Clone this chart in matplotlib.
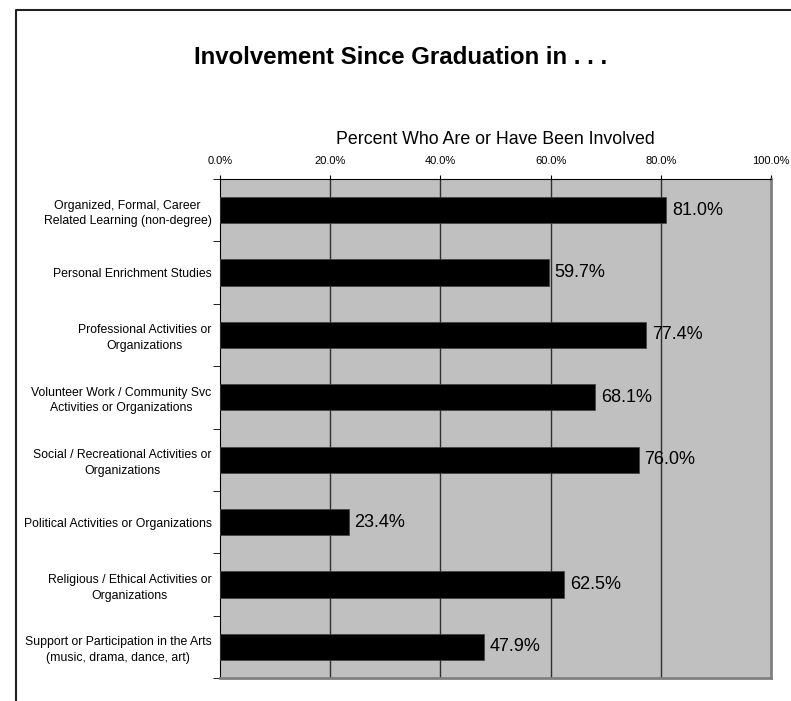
import numpy as np
import matplotlib
matplotlib.use("Agg")
import matplotlib.pyplot as plt
from matplotlib.lines import Line2D
from matplotlib.ticker import FuncFormatter

plt.rcParams['font.family'] = ['Liberation Sans', 'DejaVu Sans']

categories = ["Organized, Formal, Career\nRelated Learning (non-degree)",
              "Personal Enrichment Studies",
              "Professional Activities or\nOrganizations",
              "Volunteer Work / Community Svc\nActivities or Organizations",
              "Social / Recreational Activities or\nOrganizations",
              "Political Activities or Organizations",
              "Religious / Ethical Activities or\nOrganizations",
              "Support or Participation in the Arts\n(music, drama, dance, art)"]
percent = [81.0, 59.7, 77.4, 68.1, 76.0, 23.4, 62.5, 47.9]
xticks = [0, 20, 40, 60, 80, 100]

fig = plt.figure(figsize=(7.91, 7.01), dpi=100)
ax = fig.add_axes([220/791, 23/701, 551/791, 499/701])
ax.set_facecolor('#C0C0C0')

pos = np.arange(len(categories))
ax.barh(pos, percent, height=0.42, color='black', edgecolor='#404040', linewidth=0.5, zorder=3)
for p, v in zip(pos, percent):
    ax.text(v + 1.0, p, f"{v:.1f}%", va='center', ha='left', fontsize=13, zorder=4)

ax.set_xlim(0, 100)
ax.set_ylim(len(categories) - 0.5, -0.5)
ax.set_xticks(xticks)
ax.xaxis.set_major_formatter(FuncFormatter(lambda x, _: f"{x:.1f}%"))
ax.xaxis.tick_top()
ax.xaxis.set_label_position('top')
ax.tick_params(axis='x', labelsize=8, length=3, pad=6)
ax.set_xlabel("Percent Who Are or Have Been Involved", fontsize=12.8, labelpad=9)

ax.set_yticks(pos)
ax.set_yticklabels(categories, fontsize=8.8, multialignment='center', linespacing=1.4)
ax.set_yticks(np.arange(-0.5, len(categories)), minor=True)
ax.tick_params(axis='y', which='major', length=0, pad=6)
ax.tick_params(axis='y', which='minor', length=5, direction='out')

for x in xticks[1:-1]:
    ax.axvline(x, color='#303030', linewidth=1, zorder=1)

ax.spines['top'].set_color('black')
ax.spines['left'].set_color('black')
ax.spines['right'].set_color('#808080')
ax.spines['bottom'].set_color('#808080')
ax.spines['right'].set_linewidth(2)
ax.spines['bottom'].set_linewidth(2)

fig.text(401/791, 1 - 57/701, "Involvement Since Graduation in . . .",
         ha='center', va='center', fontsize=17.3, fontweight='bold')

# chart frame (cut at right and bottom)
fig.add_artist(Line2D([16/791, 16/791, 1.0], [0.0, 1 - 10/701, 1 - 10/701],
                      color='#202020', linewidth=1.5, transform=fig.transFigure))

plt.savefig("out.png", dpi=100)
